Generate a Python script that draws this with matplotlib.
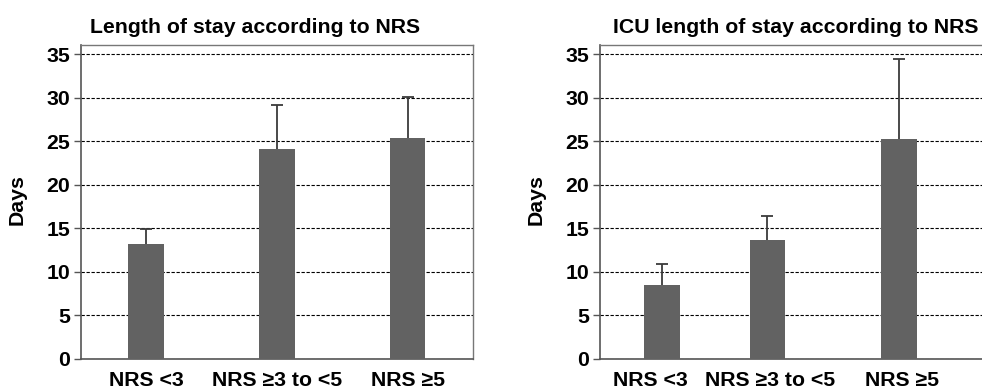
import matplotlib
matplotlib.use("Agg")
import matplotlib.pyplot as plt

plt.rcParams['font.family'] = ['Liberation Sans', 'DejaVu Sans']
plt.rcParams['font.weight'] = 'bold'

categories = ["NRS <3", "NRS \u22653 to <5", "NRS \u22655"]
los_mean = [13.25, 24.1, 25.4]
los_upper = [14.95, 29.2, 30.05]
icu_mean = [8.45, 13.65, 25.3]
icu_upper = [10.95, 16.45, 34.45]
yticks = [0, 5, 10, 15, 20, 25, 30, 35]

FS = 15.3
fig = plt.figure(figsize=(9.82, 3.92), dpi=100)

panels = [
    dict(rect=[0.0825, 0.0842, 0.399, 0.801], mean=los_mean, upper=los_upper,
         pos=[0, 1, 2], lpos=[0, 1, 2], title="Length of stay according to NRS", tx=0.445,
         ylx=17 / 982),
    dict(rect=[0.6113, 0.0842, 0.399, 0.801], mean=icu_mean, upper=icu_upper,
         pos=[-0.03, 0.78, 1.785], lpos=[-0.12, 0.80, 1.81],
         title="ICU length of stay according to NRS", tx=0.499, ylx=536 / 982),
]

for p in panels:
    ax = fig.add_axes(p['rect'])
    err = [[0] * len(p['mean']), [u - m for u, m in zip(p['upper'], p['mean'])]]
    ax.bar(p['pos'], p['mean'], width=0.275, color='#626262', zorder=3)
    ax.errorbar(p['pos'], p['mean'], yerr=err, fmt='none', ecolor='#3a3a3a',
                elinewidth=1.3, capsize=0, zorder=4)
    ax.plot(p['pos'], p['upper'], linestyle='none', marker='_', markersize=9,
            markeredgewidth=1.3, color='#3a3a3a', zorder=4)
    ax.set_xlim(-0.5, 2.5)
    ax.set_ylim(0, 36.07)
    ax.set_yticks(yticks)
    ax.set_yticklabels([str(t) for t in yticks], fontsize=FS, fontweight='bold')
    ax.set_xticks(p['lpos'])
    ax.set_xticklabels(categories, fontsize=FS, fontweight='bold')
    ax.tick_params(axis='x', length=0, pad=9)
    ax.tick_params(axis='y', length=5, width=1, color='#555555', pad=3)
    ax.yaxis.grid(True, linestyle=(0, (3, 1.5)), color='black', linewidth=0.8, zorder=1)
    ax.set_axisbelow(True)
    for s in ['left', 'bottom']:
        ax.spines[s].set_color('#555555')
        ax.spines[s].set_linewidth(1.2)
    for s in ['top', 'right']:
        ax.spines[s].set_color('#777777')
        ax.spines[s].set_linewidth(1.0)
    fig.text(p['ylx'], 0.5 - 0.01, "Days", rotation=90, fontsize=FS, fontweight='bold',
             ha='center', va='center')
    x0, w = p['rect'][0], p['rect'][2]
    fig.text(x0 + p['tx'] * w, 0.93, p['title'], fontsize=FS, fontweight='bold',
             ha='center', va='center')

fig.savefig("out.png", dpi=100)
